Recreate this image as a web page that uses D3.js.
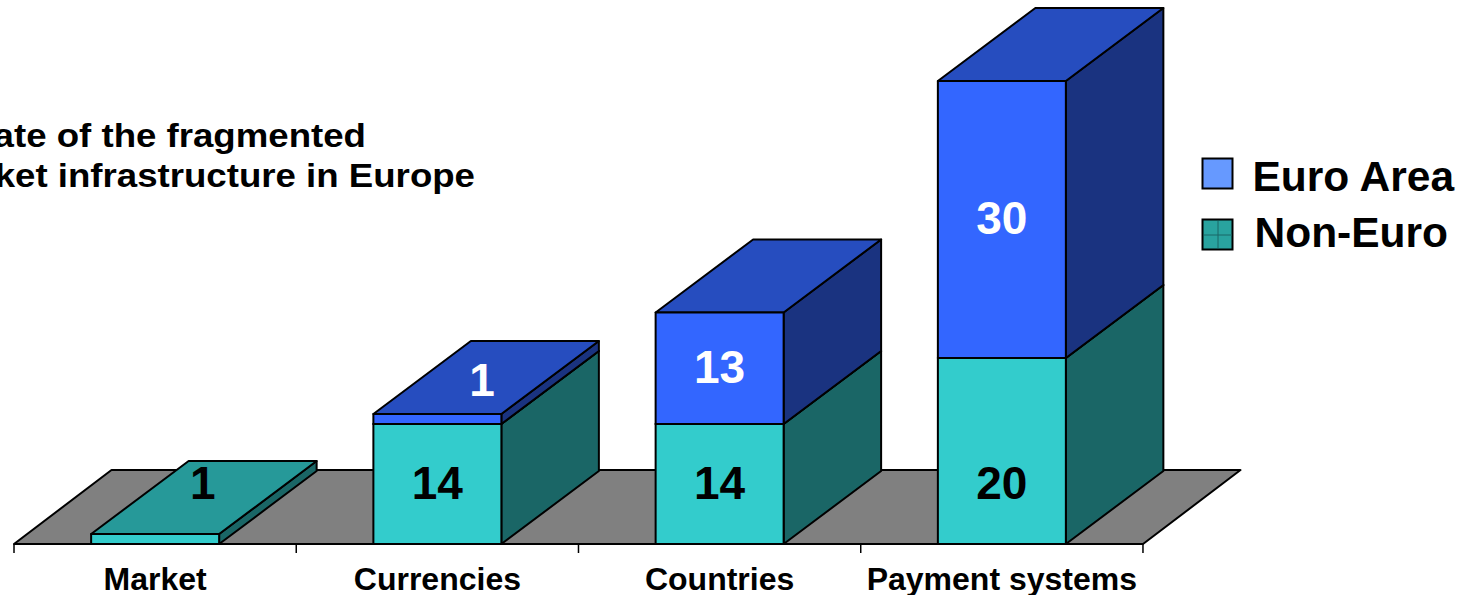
<!DOCTYPE html>
<html>
<head>
<meta charset="utf-8">
<script src="https://cdn.jsdelivr.net/npm/d3@7"></script>
<style>
html, body { margin: 0; padding: 0; background: #fff; overflow: hidden; }
svg { display: block; }
text { font-family: "Liberation Sans", Arial, sans-serif; font-weight: bold; }
</style>
</head>
<body>
<div id="chart"></div>
<script>
const categories = ["Market", "Currencies", "Countries", "Payment systems"];
const nonEuro = [1, 14, 14, 20];
const euroArea = [0, 1, 13, 30];
const legendLabels = ["Euro Area", "Non-Euro"];
const titleLines = ["State of the fragmented", "market infrastructure in Europe"];

const width = 1468, height = 595;
const baseY = 544;
// Oblique projection of the chart's depth
const depthX = 97.5, depthY = -73, floorDepthY = -74;

const svg = d3.select("#chart").append("svg")
  .attr("width", width).attr("height", height);

const x = d3.scaleBand()
  .domain(categories)
  .range([14, 1143])
  .paddingInner(0.5465)
  .paddingOuter(0.2733);

// Segment height in pixels for a given value
const segmentHeight = d3.scaleLinear()
  .domain([0, 1, 14, 20, 30])
  .range([0, 10, 120, 186, 277]);

const palette = {
  nonEuro: { front: "#33cccc", side: "#1a6666", top: "#269999", text: "#000" },
  euro: { front: "#3366ff", side: "#1a3380", top: "#264dbf", text: "#fff" }
};

const outline = sel => sel.attr("stroke", "#000").attr("stroke-width", 2)
  .attr("stroke-linejoin", "round");
const poly = pts => pts.map(p => p.join(",")).join(" ");

// Floor plane
outline(svg.append("polygon")
  .attr("fill", "#808080")
  .attr("points", poly([
    [x.range()[0], baseY], [x.range()[1], baseY],
    [x.range()[1] + depthX, baseY + floorDepthY], [x.range()[0] + depthX, baseY + floorDepthY]
  ])));

// Category axis: baseline and band boundary ticks
const step = x.step();
const tickXs = d3.range(categories.length + 1).map(i => x.range()[0] + i * step);
svg.append("g").selectAll("line").data(tickXs).join("line")
  .attr("x1", d => d).attr("x2", d => d)
  .attr("y1", baseY).attr("y2", baseY + 9)
  .attr("stroke", "#000").attr("stroke-width", 1.5);

svg.append("g").selectAll("text").data(categories).join("text")
  .attr("x", d => x(d) + x.bandwidth() / 2)
  .attr("y", 590)
  .attr("text-anchor", "middle")
  .attr("font-size", 32)
  .attr("fill", "#000")
  .text(d => d);

// Stacked cuboids, non-euro at the bottom
const labels = [];
categories.forEach((cat, i) => {
  const g = svg.append("g");
  const x0 = x(cat), x1 = x0 + x.bandwidth();
  const xMid = (x0 + x1) / 2;
  let bottom = baseY;
  [["nonEuro", nonEuro[i]], ["euro", euroArea[i]]].forEach(([key, value]) => {
    if (!value) return;
    const top = bottom - segmentHeight(value);
    const c = palette[key];
    outline(g.append("polygon").attr("fill", c.side).attr("points", poly([
      [x1, bottom], [x1 + depthX, bottom + depthY], [x1 + depthX, top + depthY], [x1, top]
    ])));
    outline(g.append("polygon").attr("fill", c.top).attr("points", poly([
      [x0, top], [x1, top], [x1 + depthX, top + depthY], [x0 + depthX, top + depthY]
    ])));
    outline(g.append("rect").attr("fill", c.front)
      .attr("x", x0).attr("y", top).attr("width", x1 - x0).attr("height", bottom - top));
    // Non-euro numbers share one line; a thin euro segment carries its number on the top face
    const thin = value === 1;
    let lx = xMid, ly;
    if (key === "nonEuro") {
      ly = baseY - 62;
      if (thin) lx += depthX / 2 - 1;
    } else if (thin) {
      lx += depthX / 2 - 4;
      ly = top - 35;
    } else {
      ly = (top + bottom) / 2 - 2;
    }
    labels.push({ value, fill: c.text, x: lx, y: ly });
    bottom = top;
  });
});

svg.append("g").selectAll("text").data(labels).join("text")
  .attr("x", d => d.x)
  .attr("y", d => d.y)
  .attr("dy", "0.36em")
  .attr("text-anchor", "middle")
  .attr("font-size", 46)
  .attr("fill", d => d.fill)
  .text(d => d.value);

// Title, slightly widened and running past the left edge of the page
svg.append("g").selectAll("text").data(titleLines).join("text")
  .attr("transform", (d, i) => `translate(${i === 0 ? 366 : 475},${146.5 + i * 40.5}) scale(1.11,1)`)
  .attr("text-anchor", "end")
  .attr("font-size", 33)
  .attr("fill", "#000")
  .text(d => d);

// Legend
const legendY = d3.scalePoint().domain(legendLabels).range([158, 219]);
const legend = svg.append("g").selectAll("g").data(legendLabels).join("g")
  .attr("transform", d => `translate(1202,${legendY(d)})`);
legend.append("rect")
  .attr("x", 0.5).attr("y", 0.5).attr("width", 30).attr("height", 30)
  .attr("fill", (d, i) => i === 0 ? "#6699ff" : "#29a39f")
  .attr("stroke", "#000").attr("stroke-width", 2);
const grid = svg.append("g").attr("stroke", "#1a6666").attr("stroke-width", 1);
grid.append("line").attr("x1", 1218).attr("x2", 1218)
  .attr("y1", legendY(legendLabels[1]) + 2).attr("y2", legendY(legendLabels[1]) + 29);
grid.append("line").attr("x1", 1204).attr("x2", 1232)
  .attr("y1", legendY(legendLabels[1]) + 16).attr("y2", legendY(legendLabels[1]) + 16);
legend.append("text")
  .attr("x", (d, i) => i === 0 ? 50.5 : 52.5)
  .attr("y", (d, i) => i === 0 ? 33 : 28)
  .attr("font-size", 42.5)
  .attr("fill", "#000")
  .text(d => d);
</script>
</body>
</html>
